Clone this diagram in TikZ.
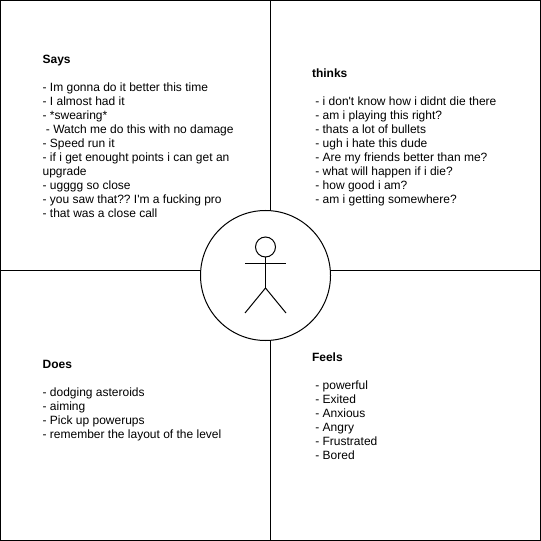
\documentclass[tikz,border=0pt]{standalone}
\usepackage{fontspec}
\setmainfont{Liberation Sans}
\frenchspacing
\tikzset{
 every node/.style={inner sep=0pt,outer sep=0pt,font=\fontsize{12bp}{14bp}\selectfont},
 txt/.style={anchor=north west,align=left},
 fig/.style={draw=black,line width=1bp}
}
\begin{document}
\begin{tikzpicture}[x=1bp,y=-1bp]
\useasboundingbox (0,0) rectangle (541,541);
\fill[white] (0,0) rectangle (541,541);
\draw[black,line width=1bp] (0.5,0.5) rectangle (540.5,540.5);
\draw[black,line width=1bp] (270.5,0.5) -- (270.5,540.5);
\draw[black,line width=1bp] (0.5,270.5) -- (540.5,270.5);
\node[circle,draw=black,fill=white,line width=1bp,minimum size=130bp] (c) at (265.5,275.5) {};
\node[circle,draw=black,line width=1bp,minimum size=20bp] (head) at (265.5,247) {};
\coordinate (hip) at (265.5,288);
\coordinate (al) at (245,263);
\coordinate (ar) at (286,263);
\coordinate (fl) at (245,313);
\coordinate (fr) at (286,313);
\draw[fig] (head.south) -- (hip);
\draw[fig] (al) -- (ar);
\draw[fig] (fl) -- (hip) -- (fr);
\node[txt] (says) at (42.6,55) {\textbf{Says}\\[14bp]- Im gonna do it better this time\\- I almost had it\\- *swearing*\\\ - Watch me do this with no damage\\- Speed run it\\- if i get enought points i can get an\\upgrade\\- ugggg so close\\- you saw that?? I\textquotesingle m a fucking pro\\- that was a close call};
\node[txt] (thinks) at (312,69) {\textbf{thinks}\\[14bp]\ - i don\textquotesingle t know how i didnt die there\\\ - am i playing this right?\\\ - thats a lot of bullets\\\ - ugh i hate this dude\\\ - Are my friends better than me?\\\ - what will happen if i die?\\\ - how good i am?\\\ - am i getting somewhere?};
\node[txt] (does) at (42.6,360) {\textbf{Does}\\[14bp]- dodging asteroids\\- aiming\\- Pick up powerups\\- remember the layout of the level};
\node[txt] (feels) at (312,353) {\textbf{Feels}\\[14bp]\ - powerful\\\ - Exited\\\ - Anxious\\\ - Angry\\\ - Frustrated\\\ - Bored};
\end{tikzpicture}
\end{document}
